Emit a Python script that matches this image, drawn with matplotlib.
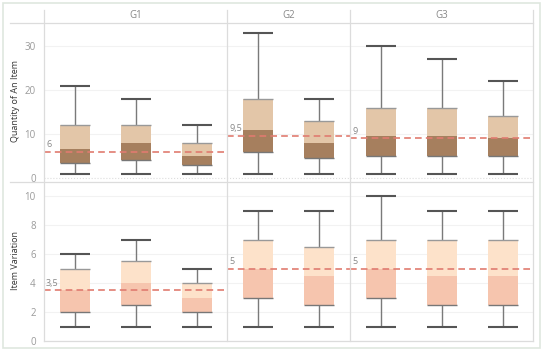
import matplotlib.pyplot as plt
from matplotlib.lines import Line2D
from matplotlib.patches import Rectangle

plt.rcParams['font.family'] = ['Open Sans', 'DejaVu Sans']

groups = ['G1', 'G2', 'G3']
boxes_per_group = [3, 2, 3]

# Quantity of An Item : whisker low, q1, median, q3, whisker high
qty_low = [1, 1, 1, 1, 1, 1, 1, 1]
qty_q1 = [3.5, 4, 3, 6, 4.5, 5, 5, 5]
qty_med = [6.5, 8, 5, 11, 8, 9.5, 9.5, 9]
qty_q3 = [12, 12, 8, 18, 13, 16, 16, 14]
qty_high = [21, 18, 12, 33, 18, 30, 27, 22]
qty_ref = [6, 9.5, 9]
qty_ref_labels = ['6', '9,5', '9']

# Item Variation
var_low = [1, 1, 1, 1, 1, 1, 1, 1]
var_q1 = [2, 2.5, 2, 3, 2.5, 3, 2.5, 2.5]
var_med = [3.5, 4, 3, 5, 4.5, 5, 4.5, 4.5]
var_q3 = [5, 5.5, 4, 7, 6.5, 7, 7, 7]
var_high = [6, 7, 5, 9, 9, 10, 9, 9]
var_ref = [3.5, 5, 5]
var_ref_labels = ['3,5', '5', '5']

W, H = 544, 352
fig = plt.figure(figsize=(W / 100, H / 100), dpi=100)
fig.patch.set_facecolor('white')

col_x = [44, 227, 350, 533]
rows = [(23, 178), (181, 341)]


def fx(px):
    return px / W


def fy(py):
    return 1 - py / H


line_col = '#dcdcdc'
tick_col = '#9a9a9a'

row_specs = [
    dict(low=qty_low, q1=qty_q1, med=qty_med, q3=qty_q3, high=qty_high,
         ref=qty_ref, ref_lab=qty_ref_labels, ylim=(0, 35.2), ticks=[0, 10, 20, 30],
         colors=('#e3c6a8', '#a67f5e'), label='Quantity of An Item'),
    dict(low=var_low, q1=var_q1, med=var_med, q3=var_q3, high=var_high,
         ref=var_ref, ref_lab=var_ref_labels, ylim=(0, 11.06), ticks=[0, 2, 4, 6, 8, 10],
         colors=('#fde2ca', '#f6c5ae'), label='Item Variation'),
]

for r, spec in enumerate(row_specs):
    top, bot = rows[r]
    start = 0
    for g in range(3):
        ax = fig.add_axes([fx(col_x[g]), fy(bot), fx(col_x[g + 1] - col_x[g]), (bot - top) / H])
        n = boxes_per_group[g]
        ax.set_xlim(-0.5, n - 0.5)
        ax.set_ylim(*spec['ylim'])
        for s in ax.spines.values():
            s.set_visible(False)
        ax.set_xticks([])
        ax.set_yticks(spec['ticks'])
        ax.grid(axis='y', color='#f2f2f2', lw=0.8)
        ax.set_axisbelow(True)
        ax.tick_params(axis='y', length=0, pad=6, labelsize=7, labelcolor=tick_col)
        if g > 0:
            ax.set_yticklabels([])
        else:
            ax.set_ylabel(spec['label'], fontsize=6.5, color='#333333', labelpad=3)
        xs = list(range(n))
        sl = slice(start, start + n)
        q1 = spec['q1'][sl]
        med = spec['med'][sl]
        q3 = spec['q3'][sl]
        lo = spec['low'][sl]
        hi = spec['high'][sl]
        bw = 30 / 61
        ax.vlines(xs, lo, q1, color='#7a7a7a', lw=1, zorder=2)
        ax.vlines(xs, q3, hi, color='#7a7a7a', lw=1, zorder=2)
        ax.hlines(lo, [x - bw / 2 for x in xs], [x + bw / 2 for x in xs], color='#555555', lw=1.5, zorder=3)
        ax.hlines(hi, [x - bw / 2 for x in xs], [x + bw / 2 for x in xs], color='#555555', lw=1.5, zorder=3)
        ax.bar(xs, [m - a for m, a in zip(med, q1)], bw, bottom=q1, color=spec['colors'][1], zorder=2)
        ax.bar(xs, [b - m for b, m in zip(q3, med)], bw, bottom=med, color=spec['colors'][0], zorder=2)
        ax.hlines(q1, [x - bw / 2 for x in xs], [x + bw / 2 for x in xs], color='#777777', lw=1, zorder=3)
        ax.hlines(q3, [x - bw / 2 for x in xs], [x + bw / 2 for x in xs], color='#999999', lw=1, zorder=3)
        ax.axhline(spec['ref'][g], color='#e07b70', lw=1.2, ls=(0, (4, 2.5)), zorder=4)
        ax.annotate(spec['ref_lab'][g], (0, spec['ref'][g]), xycoords=('axes fraction', 'data'),
                    xytext=(1.5, 2), textcoords='offset points', fontsize=6.5, color='#888888',
                    va='bottom', ha='left')
        if r == 0:
            fig.text(fx((col_x[g] + col_x[g + 1]) / 2), fy(16), groups[g], fontsize=7,
                     color='#888888', ha='center', va='center')
        start += n

# frame and separators
fig.add_artist(Rectangle((fx(3), fy(348)), fx(537), (345) / H, fill=False,
                         ec='#dfe7df', lw=1.2))
for x in col_x:
    fig.add_artist(Line2D([fx(x), fx(x)], [fy(10), fy(341)], color=line_col, lw=0.9))
fig.add_artist(Line2D([fx(10), fx(533)], [fy(23), fy(23)], color=line_col, lw=0.9))
fig.add_artist(Line2D([fx(10), fx(533)], [fy(181.5), fy(181.5)], color=line_col, lw=0.9))
fig.add_artist(Line2D([fx(44), fx(533)], [fy(178), fy(178)], color='#dddddd', lw=0.8, ls=':'))
fig.add_artist(Line2D([fx(44), fx(533)], [fy(341), fy(341)], color=line_col, lw=0.9))

fig.savefig('out.png', dpi=100)
